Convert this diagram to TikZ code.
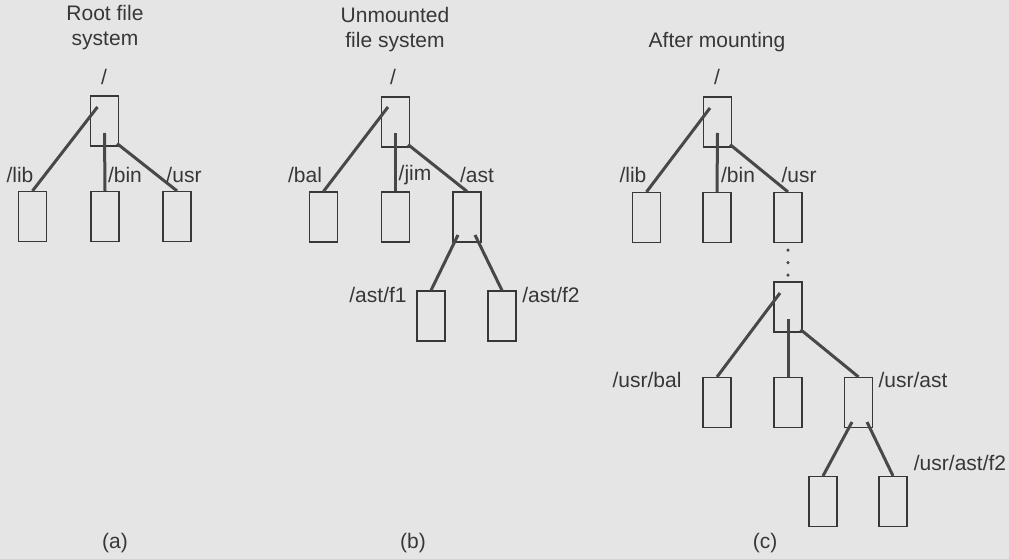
\documentclass[tikz,border=0pt]{standalone}
\usepackage{fontspec}
\setmainfont{Liberation Sans}
\usetikzlibrary{calc}
\definecolor{bg}{RGB}{229,229,229}
\definecolor{ink}{RGB}{55,55,55}
\definecolor{edgec}{RGB}{72,72,72}
\begin{document}
\begin{tikzpicture}[x=1pt,y=-1pt,
  dir/.style={draw=ink, line width=1.2pt, minimum width=28pt, minimum height=50pt, inner sep=0pt},
  lbl/.style={text=ink, font=\fontsize{21}{25}\selectfont, inner sep=0pt, align=center},
  link/.style={draw=edgec, line width=3pt},
  dotc/.style={fill=edgec}]
\fill[bg] (0,0) rectangle (1009,559);
\useasboundingbox (0,0) rectangle (1009,559);

% ---------- (a) ----------
\node[dir] (ar) at (104.5,121) {};
\node[dir] (alib) at (32.5,216.5) {};
\node[dir] (abin) at (105,216.5) {};
\node[dir] (ausr) at (177,216.5) {};
\draw[link] ([shift={(-7,-14)}]ar.center) -- (alib.north);
\draw[link] ([shift={(0,12)}]ar.center) -- (abin.north);
\draw[link] ([shift={(-2,-3)}]ar.south east) -- (ausr.north);
\node[lbl] (ta) at (105,28) {Root file\\system};
\node[lbl] (sa) at (104,77) {/};
\node[lbl] (llib) at (20,175) {/lib};
\node[lbl] (lbin) at (125,175) {/bin};
\node[lbl] (lusr) at (184,175) {/usr};
\node[lbl] (capa) at (115,543) {(a)};

% ---------- (b) ----------
\node[dir] (br) at (395.5,122) {};
\node[dir] (bbal) at (323.5,217) {};
\node[dir] (bjim) at (395.5,217) {};
\node[dir] (bast) at (467,217) {};
\node[dir] (bf1) at (431,316) {};
\node[dir] (bf2) at (502,316) {};
\draw[link] ([shift={(-7.5,-15)}]br.center) -- (bbal.north);
\draw[link] ([shift={(0,11)}]br.center) -- (bjim.north);
\draw[link] ([shift={(-2,-3)}]br.south east) -- (bast.north);
\draw[link] ([shift={(-9,18)}]bast.center) -- (bf1.north);
\draw[link] ([shift={(8,18)}]bast.center) -- (bf2.north);
\node[lbl] (tb) at (395,29.5) {Unmounted\\file system};
\node[lbl] (sb) at (393,77) {/};
\node[lbl] (lbal) at (305,175) {/bal};
\node[lbl] (ljim) at (415,175) {/jim};
\node[lbl] (last) at (477,175) {/ast};
\node[lbl] (lf1) at (378,295) {/ast/f1};
\node[lbl] (lf2) at (551,295) {/ast/f2};
\node[lbl] (capb) at (413,543) {(b)};

% ---------- (c) ----------
\node[dir] (cr) at (717.5,122) {};
\node[dir] (clib) at (646.5,217.5) {};
\node[dir] (cbin) at (717,217.5) {};
\node[dir] (cusr) at (788,217.5) {};
\draw[link] ([shift={(-7.5,-14)}]cr.center) -- (clib.north);
\draw[link] ([shift={(0,11)}]cr.center) -- (cbin.north);
\draw[link] ([shift={(-2,-3)}]cr.south east) -- (cusr.north);
\node[dir] (mr) at (788,307) {};
\foreach \d in {7,19.5,32} \fill[dotc] ($(cusr.south)+(0,\d)$) circle[radius=1.7pt];
\node[dir] (mbal) at (717,402.5) {};
\node[dir] (mmid) at (788,402.5) {};
\node[dir] (mast) at (858.5,402.5) {};
\node[dir] (mf1) at (823,501.5) {};
\node[dir] (mf2) at (893,501.5) {};
\draw[link] ([shift={(-8,-14)}]mr.center) -- (mbal.north);
\draw[link] ([shift={(0,12)}]mr.center) -- (mmid.north);
\draw[link] ([shift={(-2,-3)}]mr.south east) -- (mast.north);
\draw[link] ([shift={(-6.5,19.5)}]mast.center) -- (mf1.north);
\draw[link] ([shift={(8.5,19.5)}]mast.center) -- (mf2.north);
\node[lbl] (tc) at (717,42) {After mounting};
\node[lbl] (sc) at (717,77) {/};
\node[lbl] (clibl) at (633,175) {/lib};
\node[lbl] (cbinl) at (738,175) {/bin};
\node[lbl] (cusrl) at (799,175) {/usr};
\node[lbl] (mball) at (647,380) {/usr/bal};
\node[lbl] (mastl) at (913,380) {/usr/ast};
\node[lbl] (mf2l) at (960,463) {/usr/ast/f2};
\node[lbl] (capc) at (765,543) {(c)};
\end{tikzpicture}
\end{document}
